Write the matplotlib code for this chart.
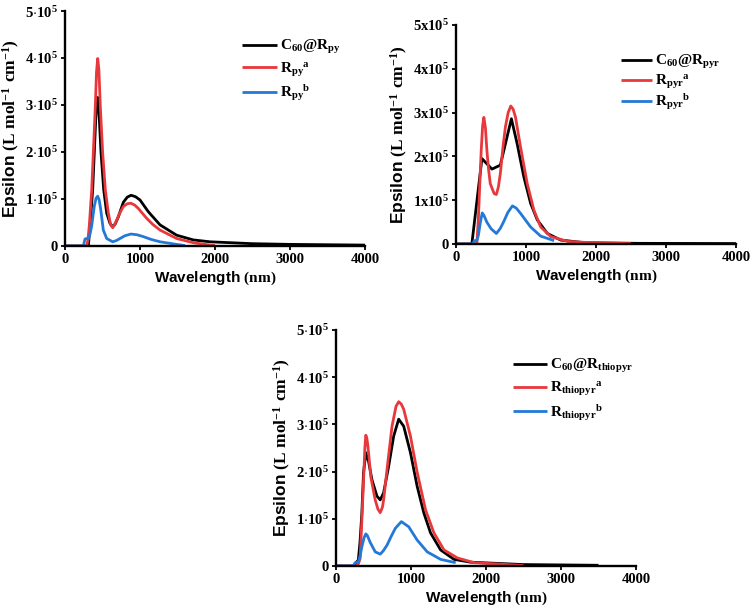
import numpy as np
import matplotlib
matplotlib.use("Agg")
import matplotlib.pyplot as plt
from matplotlib.ticker import FuncFormatter, MultipleLocator

# valores em 10^3 L mol-1 cm-1, comprimento de onda em nm
# --- C60@Rpy ---
black_py_x = [0, 311, 333, 369, 391, 415, 436, 458, 480, 516, 556, 600, 636, 670, 711, 745, 778, 830, 880, 940, 1000, 1111, 1267, 1489, 1711, 1933, 2500, 3000, 4000]
black_py_y = [0, 0, 40, 120, 200, 290, 316, 270, 200, 120, 70, 48, 41, 47, 62, 78, 93, 104, 108, 105, 98, 73, 45, 23, 13, 9, 5, 3.5, 2]
red_py_x = [0, 289, 305, 324, 356, 378, 404, 420, 436, 452, 471, 502, 538, 578, 609, 636, 660, 689, 730, 778, 830, 880, 930, 978, 1030, 1089, 1170, 1267, 1489, 1711, 1933, 2000]
red_py_y = [0, 0, 12, 43, 119, 199, 296, 370, 399, 375, 296, 199, 119, 70, 45, 39, 45, 55, 70, 84, 90, 91, 87, 80, 70, 59, 46, 34, 16, 7, 2, 1]
blue_py_x = [0, 244, 267, 289, 311, 333, 356, 391, 415, 436, 456, 476, 511, 556, 636, 690, 733, 800, 880, 960, 1044, 1150, 1267, 1489, 1600]
blue_py_y = [0, 0, 15, 16, 15, 25, 43, 85, 102, 106, 98, 78, 34, 16, 9, 12, 16, 22, 25.5, 24, 20, 14, 9, 3.5, 1]

# --- C60@Rpyr ---
black_pyr_x = [0, 226, 370, 513, 633, 791, 873, 969, 1065, 1161, 1305, 1496, 1832, 2600, 4000]
black_pyr_y = [0, 0, 195, 171, 180, 286, 229, 153, 93, 55, 24, 9, 3, 1.5, 1]
red_pyr_x = [0, 297, 320, 336, 360, 380, 398, 420, 441, 465, 489, 520, 545, 576, 605, 633, 670, 705, 745, 782, 815, 849, 921, 1017, 1113, 1209, 1353, 1593, 1929, 2500]
red_pyr_y = [0, 0, 60, 123, 214, 270, 289, 265, 214, 170, 138, 125, 115, 113, 130, 161, 220, 267, 300, 315, 308, 290, 222, 138, 77, 39, 17, 6, 3, 1]
blue_pyr_x = [0, 240, 260, 297, 320, 345, 374, 400, 440, 500, 576, 630, 681, 740, 806, 860, 921, 1065, 1209, 1401]
blue_pyr_y = [0, 0, 7.6, 7.6, 20, 47, 71, 65, 50, 35, 24, 35, 51, 72, 87, 82, 70, 39, 18, 7.6]

# --- C60@Rthiopyr ---
black_th_x = [0, 250, 268, 298, 320, 345, 367, 398, 434, 479, 546, 590, 635, 702, 769, 836, 903, 993, 1082, 1172, 1261, 1395, 1574, 1798, 2500, 3500]
black_th_y = [0, 0, 7, 12.8, 50, 112, 197, 240, 222, 183, 148, 140, 155, 211, 275, 311, 296, 240, 169, 112, 70, 34, 14, 8, 3, 1.5]
red_th_x = [0, 268, 300, 322, 345, 367, 385, 398, 412, 425, 465, 523, 560, 590, 620, 635, 680, 747, 800, 836, 870, 903, 993, 1082, 1194, 1306, 1440, 1619, 1843, 2500]
red_th_y = [0, 0, 5, 16, 98, 179, 250, 277, 270, 255, 188, 140, 120, 113, 125, 140, 204, 296, 338, 348, 343, 332, 275, 199, 119, 70, 34, 17, 7, 1]
blue_th_x = [0, 230, 255, 298, 320, 345, 375, 398, 420, 456, 523, 590, 630, 680, 740, 792, 872, 970, 1082, 1216, 1395, 1596]
blue_th_y = [0, 0, 7, 9, 20, 41, 60, 68, 64, 50, 30, 25, 32, 44, 64, 80, 94, 83, 55, 30, 14, 7]

x_ticks = [0, 1000, 2000, 3000, 4000]

plt.rcParams['font.family'] = 'Liberation Serif'
plt.rcParams['font.weight'] = 'bold'
plt.rcParams['mathtext.fontset'] = 'custom'
plt.rcParams['mathtext.rm'] = 'Liberation Serif:bold'
plt.rcParams['mathtext.it'] = 'Liberation Serif:bold'
plt.rcParams['mathtext.bf'] = 'Liberation Serif:bold'
plt.rcParams['mathtext.sf'] = 'Liberation Sans:bold'
plt.rcParams['mathtext.default'] = 'rm'

BLACK = '#000000'
RED = '#E8383B'
BLUE = '#2479D8'


def tick_fmt(sep):
    def f(v, pos):
        n = int(round(v / 1e5))
        if n == 0:
            return '0'
        return r'$%d%s10^{5}$' % (n, sep)
    return FuncFormatter(f)


def painel(rect, series, labels, sep, leg_anchor, leg_space, hlen):
    ax = fig.add_axes(rect)
    cores = [BLACK, RED, BLUE]
    for (xs, ys), cor, lab in zip(series, cores, labels):
        ax.plot(xs, np.array(ys) * 1e3, color=cor, lw=2.0, label=lab,
                solid_capstyle='butt', solid_joinstyle='round')
    ax.set_xlim(0, 4000)
    ax.set_ylim(0, 5e5)
    ax.set_xticks(x_ticks)
    ax.yaxis.set_major_locator(MultipleLocator(1e5))
    ax.yaxis.set_major_formatter(tick_fmt(sep))
    for s in ['top', 'right']:
        ax.spines[s].set_visible(False)
    for s in ['left', 'bottom']:
        ax.spines[s].set_linewidth(1.7)
    ax.tick_params(length=3, width=1.3, labelsize=10.5, pad=2)
    ax.set_xlabel(r'$\mathsf{Wavelength}\ (nm)$', fontsize=11, labelpad=3)
    ax.set_ylabel(r'$\mathsf{Epsilon}\ (L\ mol^{-1}\ cm^{-1})$', fontsize=12.5, labelpad=2)
    ax.legend(loc='upper left', bbox_to_anchor=leg_anchor, frameon=False,
              fontsize=11, handlelength=hlen, handletextpad=0.2,
              labelspacing=leg_space, borderpad=0, borderaxespad=0)
    return ax


fig = plt.figure(figsize=(7.54, 6.14), dpi=100)

painel([0.0862, 0.5993, 0.3979, 0.3827],
       [(black_py_x, black_py_y), (red_py_x, red_py_y), (blue_py_x, blue_py_y)],
       [r'$C_{60}@R_{py}$', r'$R_{py}{}^{a}$', r'$R_{py}{}^{b}$'],
       r'{\cdot}', (0.59, 0.885), 0.30, 2.3)

painel([0.6048, 0.6026, 0.3714, 0.3567],
       [(black_pyr_x, black_pyr_y), (red_pyr_x, red_pyr_y), (blue_pyr_x, blue_pyr_y)],
       [r'$C_{60}@R_{pyr}$', r'$R_{pyr}{}^{a}$', r'$R_{pyr}{}^{b}$'],
       'x', (0.59, 0.87), 0.10, 2.0)

painel([0.4456, 0.0782, 0.3979, 0.3844],
       [(black_th_x, black_th_y), (red_th_x, red_th_y), (blue_th_x, blue_th_y)],
       [r'$C_{60}@R_{thiopyr}$', r'$R_{thiopyr}{}^{a}$', r'$R_{thiopyr}{}^{b}$'],
       r'{\cdot}', (0.59, 0.885), 0.32, 2.2)

fig.savefig('out.png', dpi=100)
